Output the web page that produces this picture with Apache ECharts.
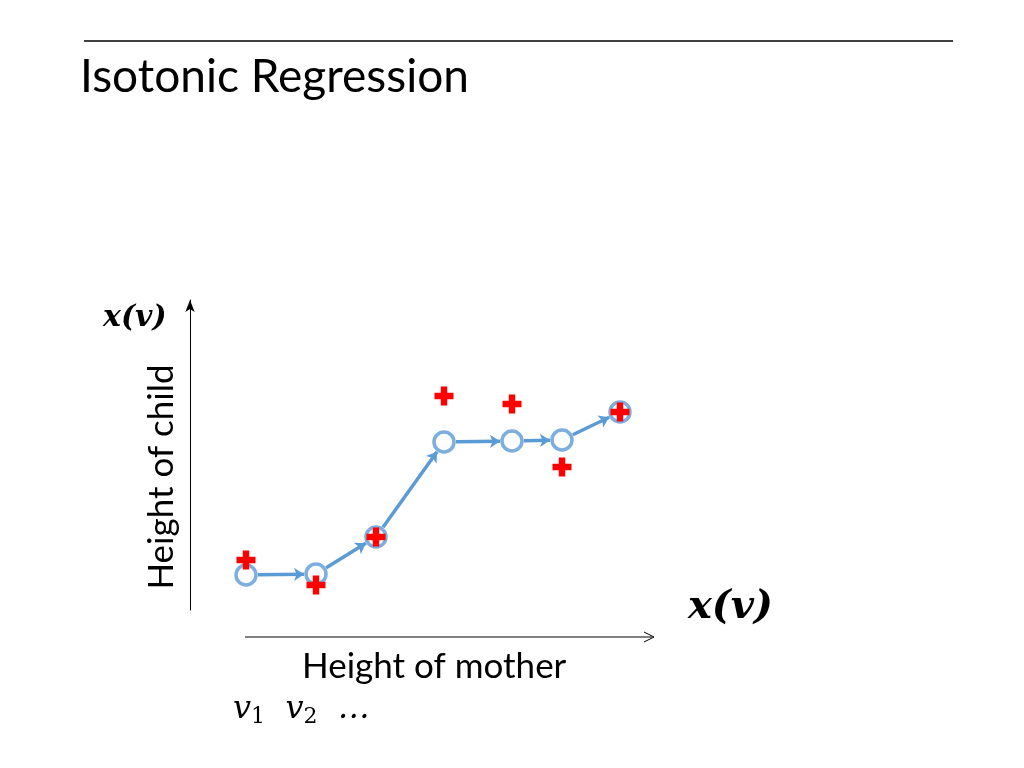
<!DOCTYPE html>
<html><head><meta charset="utf-8">
<script src="https://cdn.jsdelivr.net/npm/echarts@6/dist/echarts.min.js"></script>
<style>html,body{margin:0;background:#fff}#c{width:1024px;height:768px}</style>
</head><body><div id="c"></div>
<script>
// values (abstract units: x = mother height, y = child height)
var fitX = [56, 126, 186, 254, 322, 372, 430];
var fitY = [35, 36, 73, 168, 169, 170, 198];
var obsY = [50, 25, 73, 214, 206, 143, 198];
var plusPath = 'path://M3.3,0H6.7V3.3H10V6.7H6.7V10H3.3V6.7H0V3.3H3.3Z';
var blue = '#5B9BD5';

var fitData = fitX.map(function(x,i){return [x, fitY[i]];});
var obsData = fitX.map(function(x,i){return [x, obsY[i]];});

var e = echarts.init(document.getElementById('c'));
var option = {
    animation: false,
    grid: {left:190, top:300, width:470, height:310},
    xAxis: {type:'value', min:0, max:470, show:false},
    yAxis: {type:'value', min:0, max:310, splitLine:{show:false}, axisTick:{show:false}, axisLabel:{show:false},
        axisLine:{show:true, symbol:['none','arrow'], symbolSize:[7,12], lineStyle:{color:'#000', width:1}}},
    graphic: [
        {type:'line', shape:{x1:84,y1:41,x2:953,y2:41}, style:{stroke:'#000', lineWidth:1.5}},
        {type:'text', left:80, top:54, style:{text:'Isotonic Regression', font:'46px Lato', fill:'#000'}},
        {type:'line', shape:{x1:245,y1:637,x2:652,y2:637}, style:{stroke:'#000', lineWidth:1}},
        {type:'polyline', shape:{points:[[644,632],[654,637],[644,642]]}, style:{stroke:'#000', fill:null, lineWidth:1}},
        {type:'text', x:162, y:477, rotation:Math.PI/2, style:{text:'Height of child', font:'35px Lato', fill:'#000', align:'center', verticalAlign:'middle'}},
        {type:'text', left:302, top:649, style:{text:'Height of mother', font:'35px Lato', fill:'#000'}},
        {type:'text', left:103, top:303, style:{text:'x(v)', font:'italic bold 30px "DejaVu Serif"', fill:'#000'}},
        {type:'text', left:688, top:588, style:{text:'x(v)', font:'italic bold 40px "DejaVu Serif"', fill:'#000'}},
        {type:'text', left:233, top:694, style:{rich:{v:{font:'italic 32px "DejaVu Serif"'}, s:{font:'22px "DejaVu Serif"', padding:[14,0,0,0]}},
            text:'{v|v}{s|1}{v|  v}{s|2}{v|  …}', fill:'#000'}}
    ],
    series: [
        {type:'lines', coordinateSystem:'cartesian2d', z:2, polyline:false, symbol:['none','arrow'], symbolSize:10,
            lineStyle:{color:blue, width:3.5, opacity:1}, data:[]},
        {type:'scatter', z:3, symbol:'circle', symbolSize:20, itemStyle:{color:'#fff', borderColor:blue, borderWidth:3.5}, data:fitData},
        {type:'scatter', z:4, symbol:plusPath, symbolSize:19, itemStyle:{color:'#ff0000', opacity:1}, data:obsData}
    ]
};
e.setOption(option);
// arrows between consecutive fit points, trimmed to circle edges
var segs = [];
for (var i=0;i<fitData.length-1;i++){
    var a = e.convertToPixel({gridIndex:0}, fitData[i]);
    var b = e.convertToPixel({gridIndex:0}, fitData[i+1]);
    var dx=b[0]-a[0], dy=b[1]-a[1], d=Math.sqrt(dx*dx+dy*dy), r=12;
    var p = [a[0]+dx*r/d, a[1]+dy*r/d], q = [b[0]-dx*r/d, b[1]-dy*r/d];
    segs.push({coords:[e.convertFromPixel({gridIndex:0}, p), e.convertFromPixel({gridIndex:0}, q)]});
}
e.setOption({series:[{data:segs}]});
</script></body></html>
